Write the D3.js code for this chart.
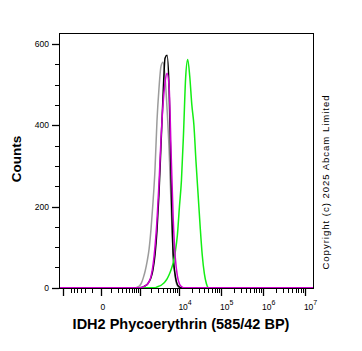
<!DOCTYPE html>
<html>
<head>
<meta charset="utf-8">
<script src="https://cdn.jsdelivr.net/npm/d3@7"></script>
<style>
  body { margin: 0; background: #fff; }
  svg { display: block; font-family: "Liberation Sans", Arial, sans-serif; }
</style>
</head>
<body>
<div id="chart-area"></div>
<script>
// SVG size
let width = 362,
	height = 351;

// histogram bin centres (fluorescence, 585/42 BP)
let bins = [794, 891, 1000, 1122, 1259, 1413, 1585, 1778, 1995, 2239, 2512, 2818,
	3162, 3548, 3981, 4467, 5012, 5623, 6310, 7079, 7943, 8913, 10000, 11220,
	12589, 14125, 15849, 17783, 19953, 22387, 25119, 28184, 31623, 35481,
	39811, 44668, 50119];

// counts per bin
let grayCounts = [0, 2, 5, 12, 25, 42, 65, 95, 145, 210, 290, 410,
	490, 545, 555, 520, 440, 340, 200, 80, 25, 5, 0, 0,
	0, 0, 0, 0, 0, 0, 0, 0, 0, 0, 0, 0, 0];
let blackCounts = [0, 0, 0, 1, 2, 5, 8, 15, 25, 45, 80, 140,
	230, 350, 470, 565, 572, 490, 260, 80, 30, 8, 2, 0,
	0, 0, 0, 0, 0, 0, 0, 0, 0, 0, 0, 0, 0];
let greenCounts = [0, 0, 0, 0, 0, 0, 0, 0, 0, 0, 0, 2,
	4, 6, 10, 15, 22, 32, 45, 62, 88, 128, 198, 265,
	380, 515, 562, 520, 450, 400, 310, 230, 150, 80, 35, 10, 0];
let magentaCounts = [0, 0, 0, 0, 2, 5, 8, 15, 28, 55, 100, 165,
	255, 365, 450, 505, 528, 495, 330, 170, 75, 30, 10, 3,
	0, 0, 0, 0, 0, 0, 0, 0, 0, 0, 0, 0, 0];

let series = [
	{name: "gray", color: "#9c9c9c", counts: grayCounts},
	{name: "black", color: "#000000", counts: blackCounts},
	{name: "green", color: "#14ee14", counts: greenCounts},
	{name: "magenta", color: "#d000d0", counts: magentaCounts}
];

// axis ticks
let xMajor = [-1000, 0, 1000, 10000, 100000, 1000000, 10000000];
let xMinor = [-600, -500, -400, -300, -200, -100, 100, 200, 300, 400, 500, 600, 700, 800, 900,
	2000, 3000, 4000, 5000, 6000, 7000, 8000, 9000,
	20000, 30000, 40000, 50000, 60000, 70000, 80000, 90000,
	200000, 300000, 400000, 500000, 600000, 700000, 800000, 900000,
	2000000, 3000000, 4000000, 5000000, 6000000, 7000000, 8000000, 9000000];
let xLabels = [{v: 0, exp: null}, {v: 10000, exp: "4"}, {v: 100000, exp: "5"},
	{v: 1000000, exp: "6"}, {v: 10000000, exp: "7"}];
let yMajor = [0, 200, 400, 600];
let yMinor = [50, 100, 150, 250, 300, 350, 450, 500, 550];

let pLeft = 59, pRight = 314, pTop = 33, pBottom = 289;

let xScale = d3.scaleSymlog()
			.constant(140)
			.domain([-1300, 16500000])
			.range([pLeft, pRight])

let yScale = d3.scaleLinear()
			.domain([-3, 627])
			.range([pBottom, pTop])

let svg = d3.select("#chart-area")
			.append("svg")
			.attr("width", width)
			.attr("height", height);

// curves
let line = d3.line()
			.x(d => xScale(d[0]))
			.y(d => yScale(d[1]))
			.curve(d3.curveMonotoneX)

let plot = svg.append("g")

series.forEach(s => {
	let pts = bins.map((b, i) => [b, s.counts[i]]);
	pts.unshift([xScale.domain()[0], 0]);
	pts.push([xScale.domain()[1], 0]);
	plot.append("path")
		.attr("d", line(pts))
		.attr("fill", "none")
		.attr("stroke", s.color)
		.attr("stroke-width", 1.5)
		.attr("stroke-linejoin", "round")
});

// frame
svg.append("rect")
	.attr("x", pLeft + 0.5)
	.attr("y", pTop + 0.5)
	.attr("width", pRight - pLeft - 1)
	.attr("height", pBottom - pTop - 1)
	.attr("fill", "none")
	.attr("stroke", "#000")
	.attr("stroke-width", 1)

// x axis ticks
let xAxis = svg.append("g").attr("class", "axis x-axis")
xAxis.selectAll("line.major")
	.data(xMajor)
	.enter()
	.append("line")
	.attr("x1", d => Math.round(xScale(d)) + 0.5)
	.attr("x2", d => Math.round(xScale(d)) + 0.5)
	.attr("y1", pBottom)
	.attr("y2", pBottom + 7)
	.attr("stroke", "#000")
	.attr("stroke-width", 1.3)
xAxis.selectAll("line.minor")
	.data(xMinor)
	.enter()
	.append("line")
	.attr("x1", d => Math.round(xScale(d)) + 0.5)
	.attr("x2", d => Math.round(xScale(d)) + 0.5)
	.attr("y1", pBottom)
	.attr("y2", pBottom + 4)
	.attr("stroke", "#000")
	.attr("stroke-width", 1)

let xl = xAxis.selectAll("text")
	.data(xLabels)
	.enter()
	.append("text")
	.attr("x", d => xScale(d.v) - 1)
	.attr("y", 310)
	.attr("font-size", 8.5)
	.attr("fill", "#000")
xl.each(function(d) {
	let t = d3.select(this);
	if (d.exp === null) {
		t.text("0");
	} else {
		t.append("tspan").text("10");
		t.append("tspan").attr("dy", -5).attr("font-size", 7).text(d.exp);
	}
});

// y axis ticks
let yAxis = svg.append("g").attr("class", "axis y-axis")
yAxis.selectAll("line.major")
	.data(yMajor)
	.enter()
	.append("line")
	.attr("x1", pLeft - 7)
	.attr("x2", pLeft)
	.attr("y1", d => Math.round(yScale(d)) + 0.5)
	.attr("y2", d => Math.round(yScale(d)) + 0.5)
	.attr("stroke", "#000")
	.attr("stroke-width", 1.3)
yAxis.selectAll("line.minor")
	.data(yMinor)
	.enter()
	.append("line")
	.attr("x1", pLeft - 4)
	.attr("x2", pLeft)
	.attr("y1", d => Math.round(yScale(d)) + 0.5)
	.attr("y2", d => Math.round(yScale(d)) + 0.5)
	.attr("stroke", "#000")
	.attr("stroke-width", 1)
yAxis.selectAll("text")
	.data(yMajor)
	.enter()
	.append("text")
	.attr("x", 49)
	.attr("y", d => yScale(d) + 3)
	.attr("text-anchor", "end")
	.attr("font-size", 8.5)
	.text(d => d)

// titles
svg.append("text")
	.attr("x", 181)
	.attr("y", 329)
	.attr("text-anchor", "middle")
	.attr("font-size", 14.5)
	.attr("font-weight", "bold")
	.text("IDH2 Phycoerythrin (585/42 BP)")

svg.append("text")
	.attr("transform", "translate(21,159) rotate(-90)")
	.attr("text-anchor", "middle")
	.attr("font-size", 13.5)
	.attr("font-weight", "bold")
	.text("Counts")

svg.append("text")
	.attr("transform", "translate(329,182) rotate(-90)")
	.attr("text-anchor", "middle")
	.attr("font-size", 9.5)
	.attr("letter-spacing", 1)
	.text("Copyright (c) 2025 Abcam Limited")
</script>
</body>
</html>
